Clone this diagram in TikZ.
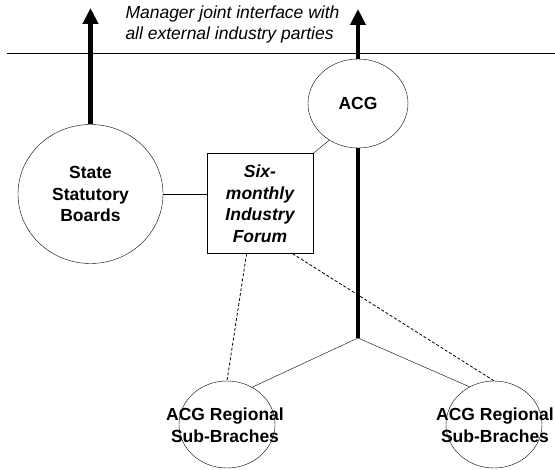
\documentclass[tikz,border=0pt]{standalone}
\usepackage{fontspec}
\setmainfont{Liberation Sans}
\usetikzlibrary{shapes,arrows.meta,calc,positioning}
\tikzset{
    x=1pt,y=-1pt,line width=1pt,
    state/.style ={ellipse, draw, inner sep=0pt, align=center, font=\fontsize{17.5}{21.5}\selectfont\bfseries},
    forum/.style = {rectangle, draw, minimum width=106pt, minimum height=100pt, inner sep=0pt, align=center, font=\fontsize{17.5}{21.5}\selectfont\bfseries\itshape},
    caption/.style = {inner sep=0pt, align=center, font=\fontsize{17.5}{21.5}\selectfont\bfseries},
    note/.style = {inner sep=0pt, align=left, font=\fontsize{17.5}{21}\selectfont\itshape},
    outward/.style={-{Triangle[width=15pt,length=16pt]}, line width=4.5pt},
    trunk/.style={line width=4.5pt},
    dashed link/.style={dash pattern=on 3pt off 2pt, line width=0.8pt}
}
\begin{document}
\begin{tikzpicture}
        \useasboundingbox (0,0) rectangle (555,470);
        \node[state, minimum width=145pt, minimum height=139pt] (ssb) at (90.5,194) {State\\Statutory\\Boards};
        \node[state, minimum width=100pt, minimum height=89pt] (acg) at (358,103.5) {ACG};
        \node[forum] (forum) at (260,203.5) {Six-\\monthly\\Industry\\Forum};
        \node[state, minimum width=96pt, minimum height=87pt] (reg1) at (227,424.5) {};
        \node[state, minimum width=96pt, minimum height=87pt] (reg2) at (494,424.5) {};
        \node[caption] (reg1 text) at (225,425) {ACG Regional\\Sub-Braches};
        \node[caption] (reg2 text) at (495,425) {ACG Regional\\Sub-Braches};
        \node[note] (mgr) at (232.5,24.5) {Manager joint interface with\\all external industry parties};

        \coordinate (lineL) at (7,53);
        \coordinate (lineR) at (555,53);
        \coordinate (tipL) at (90.5,8);
        \coordinate (tipR) at (358,9);
        \coordinate (junc) at (358,338);

        \draw (lineL) -- (lineR);
        \draw[outward] (ssb.north) -- (tipL);
        \draw[outward] (acg.north) -- (tipR);
        \draw[trunk] (acg.south) -- (junc);
        \draw (ssb.east) -- (ssb.east -| forum.west);
        \draw (forum.north east) -- (acg.232);
        \draw[dashed link] (forum.255) -- (reg1.north);
        \draw[dashed link] (forum.303) -- (reg2.north);
        \draw (junc) -- (reg1.56);
        \draw (junc) -- (reg2.123);
    \end{tikzpicture}
\end{document}
